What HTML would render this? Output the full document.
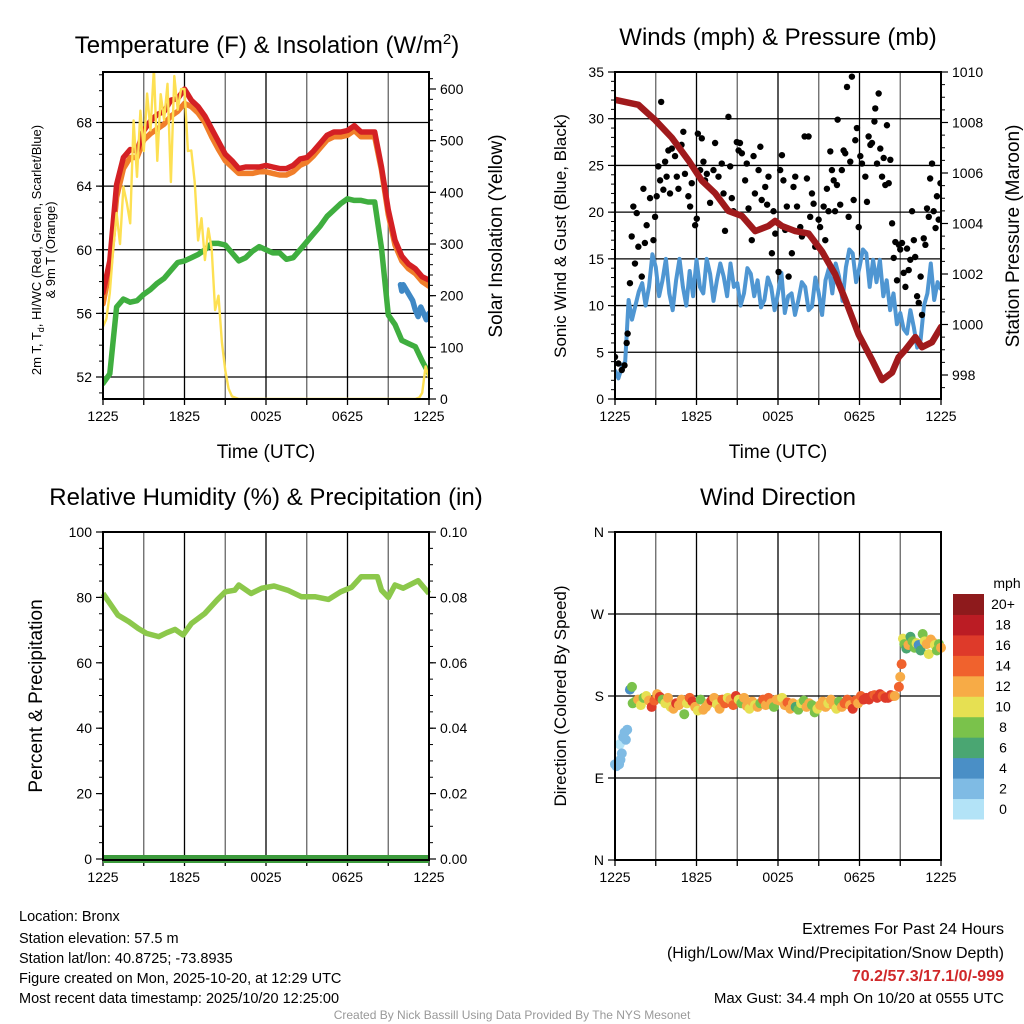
<!DOCTYPE html>
<html><head><meta charset="utf-8"><style>
html,body{margin:0;padding:0;background:#fff;}
svg{display:block;font-family:"Liberation Sans",Arial,sans-serif;}
</style></head><body>
<svg id="c" width="1024" height="1024" viewBox="0 0 1024 1024" xmlns="http://www.w3.org/2000/svg">
<defs>
<clipPath id="clip1"><rect x="103" y="72" width="326" height="327"/></clipPath>
<clipPath id="clip2"><rect x="615" y="72" width="326" height="327"/></clipPath>
</defs>
<g id="p1"></g>
<g id="p2"></g>
<g id="p3"></g>
<g id="p4"></g>
<text x="267" y="53" font-size="24" text-anchor="middle">Temperature (F) &amp; Insolation (W/m<tspan dy="-9" font-size="15">2</tspan><tspan dy="9">)</tspan></text>
<text x="778" y="45" font-size="24" text-anchor="middle">Winds (mph) &amp; Pressure (mb)</text>
<text x="266" y="505" font-size="24" text-anchor="middle">Relative Humidity (%) &amp; Precipitation (in)</text>
<text x="778" y="505" font-size="24" text-anchor="middle">Wind Direction</text>
<text x="266" y="458" font-size="19" text-anchor="middle">Time (UTC)</text>
<text x="778" y="458" font-size="19" text-anchor="middle">Time (UTC)</text>
<text transform="translate(41,250) rotate(-90)" font-size="13" text-anchor="middle">2m T, T<tspan dy="3" font-size="9">d</tspan><tspan dy="-3">, HI/WC (Red, Green, Scarlet/Blue)</tspan></text>
<text transform="translate(55,250) rotate(-90)" font-size="13" text-anchor="middle">&amp; 9m T (Orange)</text>
<text transform="translate(502,236) rotate(-90)" font-size="19" text-anchor="middle">Solar Insolation (Yellow)</text>
<text transform="translate(566,236) rotate(-90)" font-size="17" text-anchor="middle">Sonic Wind &amp; Gust (Blue, Black)</text>
<text transform="translate(1019,236) rotate(-90)" font-size="19" text-anchor="middle">Station Pressure (Maroon)</text>
<text transform="translate(42,696) rotate(-90)" font-size="19" text-anchor="middle">Percent &amp; Precipitation</text>
<text transform="translate(566,696) rotate(-90)" font-size="17" text-anchor="middle">Direction (Colored By Speed)</text>
<g font-size="14.5">
<text x="19" y="921">Location: Bronx</text>
<text x="19" y="943">Station elevation: 57.5 m</text>
<text x="19" y="963">Station lat/lon: 40.8725; -73.8935</text>
<text x="19" y="983">Figure created on Mon, 2025-10-20, at 12:29 UTC</text>
<text x="19" y="1003">Most recent data timestamp: 2025/10/20 12:25:00</text>
</g>
<g font-size="16" text-anchor="end">
<text x="1004" y="934">Extremes For Past 24 Hours</text>
<text x="1004" y="958">(High/Low/Max Wind/Precipitation/Snow Depth)</text>
<text x="1004" y="981" fill="#d0282a" font-weight="bold">70.2/57.3/17.1/0/-999</text>
<text x="1004" y="1003" font-size="15">Max Gust: 34.4 mph On 10/20 at 0555 UTC</text>
</g>
<text x="512" y="1019" font-size="12" fill="#999" text-anchor="middle">Created By Nick Bassill Using Data Provided By The NYS Mesonet</text>
</svg>
<script>
// ---------- data ----------
const halfHours = [0,0.5,1,1.5,2,2.5,3,3.5,4,4.5,5,5.5,6,6.5,7,7.5,8,8.5,9,9.5,10,10.5,11,11.5,12,12.5,13,13.5,14,14.5,15,15.5,16,16.5,17,17.5,18,18.5,19,19.5,20,20.5,21,21.5,22,22.5,23,23.5,24];
const quarterHours = [0,0.25,0.5,0.75,1,1.25,1.5,1.75,2,2.25,2.5,2.75,3,3.25,3.5,3.75,4,4.25,4.5,4.75,5,5.25,5.5,5.75,6,6.25,6.5,6.75,7,7.25,7.5,7.75,8,8.25,8.5,8.75,9,9.25,9.5,9.75,10,10.25,10.5,10.75,11,11.25,11.5,11.75,12,12.25,12.5,12.75,13,13.25,13.5,13.75,14,14.25,14.5,14.75,15,15.25,15.5,15.75,16,16.25,16.5,16.75,17,17.25,17.5,17.75,18,18.25,18.5,18.75,19,19.25,19.5,19.75,20,20.25,20.5,20.75,21,21.25,21.5,21.75,22,22.25,22.5,22.75,23,23.25,23.5,23.75,24];
const tempRed = [57.3,59.3,64.1,65.8,66.3,66.2,67.5,68.1,68.5,68.7,69.4,69.5,70.1,69.4,69.0,68.4,67.6,66.8,66.0,65.6,65.1,65.2,65.2,65.2,65.3,65.2,65.1,65.1,65.3,65.7,65.8,66.2,66.7,67.2,67.4,67.4,67.5,67.8,67.4,67.4,67.4,65.2,62.5,60.6,59.6,59.1,58.8,58.3,58.1];
const tempOrange = [56.6,58.8,63.3,65.1,65.8,65.8,66.9,67.3,67.6,67.9,68.4,68.7,69.2,69.0,68.6,68.0,67.1,66.3,65.6,65.2,64.8,64.8,64.8,64.9,64.9,64.8,64.7,64.7,64.9,65.3,65.5,65.9,66.4,66.9,67.1,67.1,67.2,67.5,67.1,67.1,67.1,65.0,62.2,60.3,59.3,58.8,58.5,58.0,57.7];
const dewGreen = [51.6,52.2,56.4,56.9,56.7,56.8,57.2,57.5,57.9,58.2,58.7,59.2,59.3,59.5,59.7,60.0,60.4,60.4,60.3,59.8,59.3,59.5,59.9,60.2,60.0,59.8,59.8,59.4,59.5,60.0,60.5,61.0,61.5,62.1,62.5,62.9,63.2,63.1,63.1,63.0,63.0,60.1,55.9,55.3,54.3,54.1,53.9,53.0,52.2];
const hiwcTimes = [21.9,22.0,22.1, 22.8,23.0,23.2,23.4,23.6,23.8,24.0];
const hiwcBlue = [57.8,57.4,57.8, 56.8,56.2,55.8,56.4,56.0,55.6,56.0];
const solarTimes = [0,0.25,0.5,0.75,1,1.25,1.5,1.75,2,2.25,2.5,2.75,3,3.25,3.5,3.75,4,4.25,4.5,4.75,5,5.25,5.5,5.75,6,6.25,6.5,6.75,7,7.25,7.5,7.75,8,8.25,8.5,8.75,9,9.25,9.5,10,12,14,16,18,20,22,23,23.3,23.5,23.75,24];
const solarVals = [140,155,205,290,360,300,411,380,340,539,430,558,480,591,520,640,461,590,540,610,420,625,560,600,600,480,481,420,307,350,269,330,290,172,200,110,55,20,5,0,0,0,0,0,0,0,0,3,12,63,40];
const windSust = [3.1,2.2,3.4,4.0,10.6,8.5,10.0,11.5,12.4,10.0,12.0,15.5,14.1,11.0,12.7,15.0,11.3,9.5,12.7,15.0,12.0,10.0,13.7,11.0,14.9,12.0,11.3,15.0,13.4,10.5,12.7,14.5,13.1,11.0,14.5,12.0,12.4,10.0,11.3,14.0,13.4,11.0,12.7,9.8,10.6,13.0,12.0,9.5,11.3,13.5,9.2,11.0,11.3,9.0,10.6,12.5,12.0,9.5,9.9,13.0,11.3,9.0,12.7,14.0,11.3,14.5,13.1,10.5,14.1,16.0,15.6,12.5,14.1,16.0,15.6,12.0,14.9,12.5,14.9,11.0,12.7,9.5,11.3,8.0,9.2,7.5,7.0,9.5,7.7,5.5,6.3,10.0,11.3,14.5,10.6,12.5,11.7];
const pressTimes = [0,1.72,2.95,4.18,5.41,6.39,7.37,8.35,9.34,10.32,11.3,11.79,12.29,13.27,14.25,15.23,16.2,16.95,17.94,18.92,19.66,20.4,20.88,21.38,22.11,22.6,23.34,24];
const pressVals = [1008.9,1008.7,1008.1,1007.4,1006.5,1005.7,1005.2,1004.5,1004.3,1003.7,1003.9,1004.1,1003.9,1003.7,1003.6,1002.9,1002.0,1001.0,999.6,998.6,997.8,998.1,998.7,999.0,999.5,999.1,999.3,999.9];
const gustTimes = [0,0.25,0.5,0.7,0.86,0.93,1.1,1.23,1.35,1.47,1.6,1.72,1.97,2.09,2.2,2.33,2.58,2.83,2.95,3.07,3.19,3.32,3.4,3.56,3.69,3.8,3.93,4.05,4.18,4.42,4.55,4.67,4.9,5.03,5.15,5.4,5.53,5.65,5.9,6.02,6.1,6.27,6.39,6.51,6.63,6.76,7,7.25,7.37,7.62,7.86,7.99,8.1,8.35,8.48,8.6,8.72,8.97,9.1,9.2,9.34,9.58,9.7,9.83,10.07,10.2,10.3,10.57,10.7,10.8,11.06,11.2,11.3,11.55,11.67,11.8,12.04,12.16,12.29,12.4,12.53,12.65,12.78,13.02,13.14,13.27,13.4,13.64,13.76,13.96,14.13,14.25,14.37,14.5,14.62,14.74,14.99,15.1,15.36,15.48,15.6,15.72,15.85,15.97,16.1,16.2,16.34,16.39,16.58,16.7,16.83,16.95,17.08,17.2,17.32,17.44,17.57,17.69,17.81,17.94,18.06,18.18,18.43,18.55,18.67,18.8,18.92,19.1,19.16,19.29,19.41,19.53,19.66,19.78,19.9,20.02,20.15,20.27,20.4,20.52,20.64,20.76,20.9,21.0,21.13,21.25,21.38,21.5,21.62,21.74,21.87,22.0,22.1,22.24,22.36,22.5,22.6,22.73,22.85,22.97,23.1,23.2,23.34,23.46,23.6,23.7,23.83,23.96];
const gustVals = [4.5,3.8,3.1,3.6,6,7,12.4,17.4,20.6,14.5,19.9,16.3,13.1,22.5,16.7,18.6,21.5,17,19.5,21.7,24.9,23.4,31.8,22.4,25.4,23.8,26.6,22,26.8,26,23.8,22.5,27.2,28.6,24.1,21.7,20.6,23.1,18.6,19.3,28.4,24.5,27.9,25.4,23.4,24.1,21,24.5,27.4,23.8,25.2,22,18,30.2,24.9,21.5,20.1,27.5,26.6,27.4,26.3,23.4,25.2,20.4,17,26,22,24.5,27,21.3,22.7,20.8,23.8,15.6,20.1,17.7,13.6,24.5,26.1,23.4,18.1,20.6,13.1,15.6,22.7,23.8,20.6,18.4,17.4,28.1,23.6,28.1,19.5,22,20.9,16.3,19.2,18.4,20.6,17,22.5,20.1,26.5,24.5,23.4,20.1,22.9,29.9,20.8,24.5,26.6,26.3,33.4,19.5,25.4,34.5,21.3,27.7,29,18.4,26,25.2,23.8,21.1,28.1,27.2,27.4,29.7,31.1,25.2,32.7,26.8,23.8,25.8,22.9,29.3,23.1,25.6,18.8,15.1,16.8,12.7,16.5,16,16.7,13.5,12,16.1,13.8,14.9,20.1,17,15.2,11,10.3,13.1,9,17.2,16.5,20.4,19.5,23.6,25.2,20.1,18.3,21.7,19.2,23.1];
const rhTimes = [0,0.5,1.1,1.9,2.6,3.2,4.1,4.7,5.3,5.9,6.5,7.5,8.4,9,9.7,10,10.9,11.7,12.6,13.6,14.6,15.6,16.6,17.5,18.3,19,20.2,20.5,21,21.5,22.1,23.2,24];
const rhVals = [81.2,78.2,74.6,72.6,70.5,69,68,69.2,70.2,68.5,72,75.1,79.2,81.7,82.2,83.8,81.2,82.8,83.5,82.2,80.2,80.2,79.4,81.7,83.1,86.3,86.3,82.2,80,83.8,82.8,85.1,81.2];
const precipTimes = [0,24];
const precipVals = [0,0];
const dirTimes = [0,0.1,0.2,0.3,0.35,0.4,0.5,0.6,0.7,0.8,0.9,1.1,1.25,1.3,1.5,1.7,1.9,2.1,2.3,2.5,2.7,2.9,3.1,3.3,3.5,3.7,3.9,4.1,4.3,4.5,4.7,4.9,5.1,5.3,5.5,5.7,5.9,6.1,6.3,6.5,6.7,6.9,7.1,7.3,7.5,7.7,7.9,8.1,8.3,8.5,8.7,8.9,9.1,9.3,9.5,9.7,9.9,10.1,10.3,10.5,10.7,10.9,11.1,11.3,11.5,11.7,11.9,12.1,12.3,12.5,12.7,12.9,13.1,13.3,13.5,13.7,13.9,14.1,14.3,14.5,14.7,14.9,15.1,15.3,15.5,15.7,15.9,16.1,16.3,16.5,16.7,16.9,17.1,17.3,17.5,17.7,17.9,18.1,18.3,18.5,18.7,18.9,19.1,19.3,19.5,19.7,19.9,20.1,20.3,20.45,20.6,20.9,21.0,21.1,21.2,21.3,21.45,21.6,21.75,21.9,22.05,22.2,22.35,22.5,22.65,22.8,22.95,23.1,23.25,23.4,23.55,23.7,23.85,24];
const dirVals = [105,103,107,105,127,110,117,135,140,132,143,187,190,172,174,176,170,178,180,175,168,175,182,179,176,172,178,168,166,172,170,176,160,172,178,174,168,164,176,165,168,172,175,178,171,166,176,172,178,176,170,180,176,172,178,169,166,174,170,168,172,176,170,178,172,168,176,175,178,170,173,166,172,168,165,172,175,168,172,170,162,166,170,174,168,172,176,170,166,174,168,172,176,170,166,175,172,180,176,178,176,180,181,178,182,180,178,178,181,180,180,190,201,215,243,237,232,236,245,240,233,238,236,230,248,240,237,226,242,239,236,230,237,233,241,234,238,252];
const dirSpeeds = [3,3,2,3,1,3,3,3,2.5,3,3,4,9,8,9,12,10,8,11,12,17,15,13,16,9,10,12,11,13,16,12,13,8,10,15,17,12,10,9,12,13,12,16,12,11,13,14,15,10,12,14,16,10,9,13,12,10,12,11,13,9,15,12,14,12,8,13,12,10,12,15,12,13,7,8,10,9,12,13,8,9,10,12,12,13,11,13,12,10,9,12,15,14,12,16,15,13,14,17,16,17,16,15,17,16,14,17,16,16,14,13,15,12,15,10,8,7,12,6,8,9,11,5,7,9,10,12,11,13,12,10,8,9,13,15,12,10,11];
const speedColors = ["#b3e3f7","#7fbbe4","#4a8fc6","#4aa672","#7ac24b","#e6e052","#f7ab46","#f0622d","#de3a2a","#bb1c24","#8e1a1c"];
const speedLabels = ["0","2","4","6","8","10","12","14","16","18","20+"];
const timeTickLabels = ["1225","1825","0025","0625","1225"];
const tempTicks = [52,56,60,64,68];
const solarTicks = [0,100,200,300,400,500,600];
const windTicks = [0,5,10,15,20,25,30,35];
const pressTicks = [998,1000,1002,1004,1006,1008,1010];
const pctTicks = [0,20,40,60,80,100];
const precipTicks = ["0.00","0.02","0.04","0.06","0.08","0.10"];
const dirTicks = [0,90,180,270,360];
const dirTickLabels = ["N","E","S","W","N"];

// ---------- helpers ----------
const NS="http://www.w3.org/2000/svg";
function mk(parent,tag,attrs){const e=document.createElementNS(NS,tag);for(const k in attrs)e.setAttribute(k,attrs[k]);parent.appendChild(e);return e;}
function lin(d0,d1,r0,r1){return v=>r0+(v-d0)*(r1-r0)/(d1-d0);}
function pathD(ts,vs,fx,fy){let d="";let pen=false;for(let i=0;i<ts.length;i++){if(vs[i]==null){pen=false;continue;}d+=(pen?"L":"M")+fx(ts[i]).toFixed(1)+","+fy(vs[i]).toFixed(1);pen=true;}return d;}

function frame(g,L,R,T,B,fx,hTicks,fy){
  for(let h=0;h<=24;h+=3){const x=fx(h);
    const l=mk(g,"line",{x1:x,x2:x,y1:T,y2:B,stroke:(h%6==0)?"#000":"#666","stroke-width":1.3});
    
    
    mk(g,"line",{x1:x,x2:x,y1:B,y2:B+6,stroke:"#000","stroke-width":1.3});}
  hTicks.forEach(v=>{const y=fy(v);
    const l=mk(g,"line",{x1:L,x2:R,y1:y,y2:y,stroke:"#000","stroke-width":1.3});
    
    });
  timeTickLabels.forEach((s,i)=>{const t=mk(g,"text",{x:fx(i*6),y:B+22,"font-size":14,"text-anchor":"middle"});t.textContent=s;
    
    });
}
function border(g,L,R,T,B){const r=mk(g,"rect",{x:L,y:T,width:R-L,height:B-T,fill:"none",stroke:"#000","stroke-width":2});
  
  }
function yTicks(g,x,side,vals,labels,fy,minorStep,lo,hi){
  vals.forEach((v,i)=>{const y=fy(v);mk(g,"line",{x1:x,x2:x+side*7,y1:y,y2:y,stroke:"#000","stroke-width":1.2});
    const t=mk(g,"text",{x:x+side*11,y:y+5,"font-size":14,"text-anchor":side<0?"end":"start"});t.textContent=labels[i];
    
    });
  if(minorStep){for(let v=lo;v<=hi+1e-9;v+=minorStep){const y=fy(v);mk(g,"line",{x1:x,x2:x+side*4,y1:y,y2:y,stroke:"#000","stroke-width":1});}}
}

// ---------- panel 1 ----------
(function(){
  const g=document.getElementById("p1");const L=103,R=429,T=72,B=399;
  const fx=lin(0,24,L,R), fy=lin(52,68,377,122.5), fs=lin(0,600,399,89);
  frame(g,L,R,T,B,fx,tempTicks,fy);
  yTicks(g,L,-1,tempTicks,tempTicks.map(String),fy,1,51,71);
  yTicks(g,R,1,solarTicks,solarTicks.map(String),fs,20,0,620);
  const cl=mk(g,"g",{"clip-path":"url(#clip1)"});
  const lines=[[halfHours,dewGreen,"#3fae3f",5.5,fy,"dewpoint-line"],[halfHours,tempOrange,"#f07e2a",5.5,fy,"temp-9m-line"],[halfHours,tempRed,"#d42024",5.5,fy,"temp-2m-line"],[solarTimes,solarVals,"#fde053",2.4,fs,"solar-line"],[hiwcTimes,hiwcBlue,"#3f88c5",5.5,fy,"hiwc-line"]];
  lines.forEach(a=>{const p=mk(cl,"path",{d:pathD(a[0],a[1],fx,a[4]),fill:"none",stroke:a[2],"stroke-width":a[3],"stroke-linejoin":"round","stroke-linecap":"round"});
    
    });
  border(g,L,R,T,B);
})();

// ---------- panel 2 ----------
(function(){
  const g=document.getElementById("p2");const L=615,R=941,T=72,B=399;
  const fx=lin(0,24,L,R), fy=lin(0,35,399,72), fp=lin(998,1010,375,72);
  frame(g,L,R,T,B,fx,windTicks,fy);
  yTicks(g,L,-1,windTicks,windTicks.map(String),fy,1,0,35);
  yTicks(g,R,1,pressTicks,pressTicks.map(String),fp,0.5,997.5,1010);
  const cl=mk(g,"g",{"clip-path":"url(#clip2)"});
  const p1=mk(cl,"path",{d:pathD(quarterHours,windSust,fx,fy),fill:"none",stroke:"#4f96d2","stroke-width":4,"stroke-linejoin":"round"});
  
  
  gustTimes.forEach((t,i)=>{const c=mk(cl,"circle",{cx:fx(t),cy:fy(gustVals[i]),r:3.2,fill:"#000"});
    
    });
  const p2=mk(cl,"path",{d:pathD(pressTimes,pressVals,fx,fp),fill:"none",stroke:"#a01a1c","stroke-width":6.5,"stroke-linejoin":"round","stroke-linecap":"round"});
  
  
  border(g,L,R,T,B);
})();

// ---------- panel 3 ----------
(function(){
  const g=document.getElementById("p3");const L=103,R=429,T=532,B=860;
  const fx=lin(0,24,L,R), fy=lin(0,100,859,532), fq=lin(0,0.1,859,532);
  frame(g,L,R,T,B,fx,[],fy);
  yTicks(g,L,-1,pctTicks,pctTicks.map(String),fy,5,0,100);
  yTicks(g,R,1,precipTicks.map(Number),precipTicks,fq,0.005,0,0.1);
  const p1=mk(g,"path",{d:pathD(rhTimes,rhVals,fx,fy),fill:"none",stroke:"#8cc84b","stroke-width":5.5,"stroke-linejoin":"round"});
  
  
  const p2=mk(g,"path",{d:pathD(precipTimes,precipVals,fx,fq),fill:"none",stroke:"#3c9a3c","stroke-width":8});
  
  
  border(g,L,R,T,B);
})();

// ---------- panel 4 ----------
(function(){
  const g=document.getElementById("p4");const L=615,R=941,T=532,B=860;
  const fx=lin(0,24,L,R), fy=lin(0,360,860,532);
  frame(g,L,R,T,B,fx,dirTicks,fy);
  yTicks(g,L,-1,dirTicks,dirTickLabels,fy,0,0,0);
  dirTimes.forEach((t,i)=>{const b=Math.min(10,Math.floor(dirSpeeds[i]/2));
    const c=mk(g,"circle",{cx:fx(t),cy:fy(dirVals[i]),r:5,fill:speedColors[b]});
    
    });
  border(g,L,R,T,B);
  const cb=mk(g,"g",{});
  
  
  const top=594,bot=819,h=(bot-top)/11;
  speedColors.forEach((col,i)=>{const y=bot-(i+1)*h;mk(cb,"rect",{x:953,y:y,width:31,height:h+0.5,fill:col});
    const t=mk(cb,"text",{x:1003,y:y+h/2+5,"font-size":14,"text-anchor":"middle"});t.textContent=speedLabels[i];
    
    });
  const u=mk(cb,"text",{x:1007,y:588,"font-size":14,"text-anchor":"middle"});u.textContent="mph";
  
  
})();
</script>
</body></html>
